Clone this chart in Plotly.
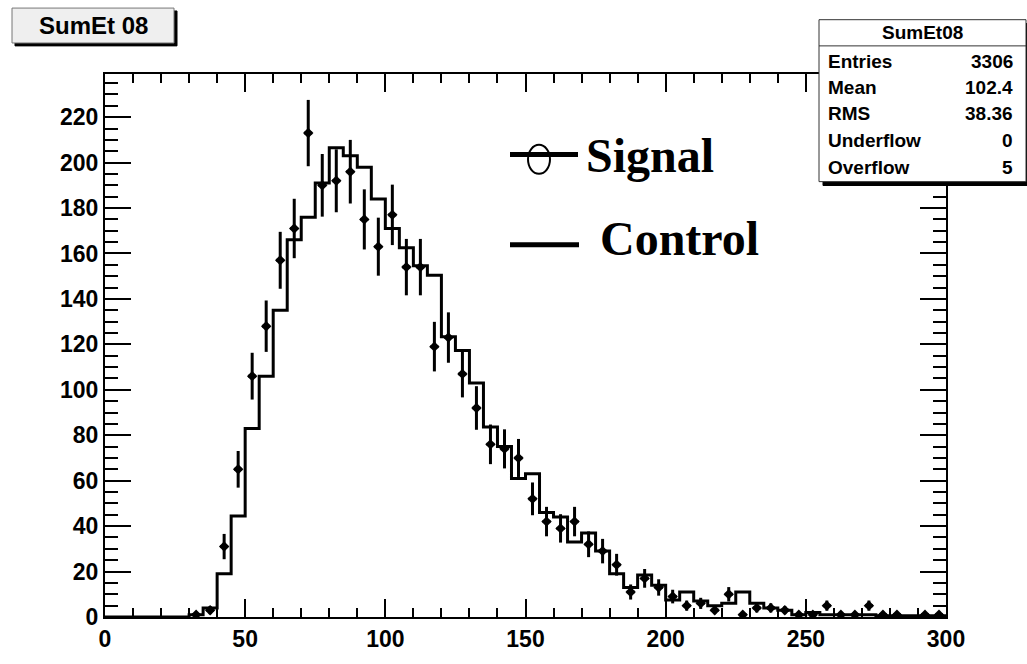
import numpy as np
import plotly.graph_objects as go

# ---- data (bin width 5, range 0-300) ----
bin_left = list(range(0, 300, 5))
control = [0, 0, 0, 0, 0, 0, 1, 4, 19, 44.5,
           83, 106, 135, 166, 176, 191, 206.5, 203, 198, 184,
           171, 162.5, 154.6, 150.4, 123.4, 117.3, 103, 83.6, 75, 61,
           63, 46, 44, 33, 37, 29, 19, 13, 18.5, 14,
           7.5, 11, 7, 5, 6, 11, 6, 4, 3, 1,
           2, 1, 1, 1, 1, 0.5, 0.5, 0.5, 0.5, 0.5]
signal = [0, 0, 0, 0, 0, 0, 1, 3, 31, 65,
          106, 128, 157, 171, 213, 190, 192, 196, 175, 163,
          177, 154, 154, 119, 123, 107, 92, 76, 74, 70,
          52, 42, 39, 42, 32, 29, 23, 11, 17, 13,
          9, 5, 6, 3, 10, 1, 4, 4, 3, 1,
          1, 5, 1, 1, 5, 1, 1, 0, 1, 1]
x_ticks = [0, 50, 100, 150, 200, 250, 300]
y_ticks = list(range(0, 221, 20))
stats_labels = ["Entries", "Mean", "RMS", "Underflow", "Overflow"]
stats_values = ["3306", "102.4", "38.36", "0", "5"]

BW = 5
edges = np.array(bin_left + [300], dtype=float)
ctrl_y = np.array(control + [control[-1]], dtype=float)
sig = np.array(signal, dtype=float)
centers = np.array(bin_left, dtype=float) + BW / 2
mask = sig > 0

# ---- layout geometry (pixels) ----
L, R, T, B = 105, 946, 74, 634
W, H = R - L, B - T
def px(x):
    return (x - L) / W
def py(y):
    return (B - y) / H

fig = go.Figure()
fig.add_trace(go.Scatter(
    x=edges, y=ctrl_y, mode="lines", line=dict(color="black", width=3, shape="hv"),
    name="Control", showlegend=False, hoverinfo="skip"))
fig.add_trace(go.Scatter(
    x=centers[mask], y=sig[mask], mode="markers",
    marker=dict(symbol="diamond", size=8, color="black"),
    error_y=dict(type="data", array=np.sqrt(sig[mask]), color="black", thickness=3, width=0),
    error_x=dict(type="constant", value=1.4, color="black", thickness=3, width=0),
    name="Signal", showlegend=False))

tickfont = dict(family="Liberation Sans, Arial, sans-serif", size=23, color="black", weight="bold")
fig.update_layout(
    width=1027, height=664,
    margin=dict(l=L, r=1027 - R, t=T, b=664 - B),
    paper_bgcolor="white", plot_bgcolor="white",
    showlegend=False,
    xaxis=dict(range=[0, 300], tickvals=x_ticks, ticks="inside", ticklen=18, tickwidth=2,
               tickcolor="black", showline=True, linecolor="black", linewidth=2, mirror="ticks",
               showgrid=False, zeroline=False, tickfont=tickfont,
               minor=dict(dtick=10, ticks="inside", ticklen=9, tickwidth=1.5, tickcolor="black", showgrid=False)),
    yaxis=dict(range=[0, 239], tickvals=y_ticks, ticks="inside", ticklen=26, tickwidth=2,
               tickcolor="black", showline=True, linecolor="black", linewidth=2, mirror="ticks",
               showgrid=False, zeroline=False, tickfont=tickfont,
               minor=dict(dtick=5, ticks="inside", ticklen=13, tickwidth=1.5, tickcolor="black", showgrid=False)),
)

shapes = []
def rect(x0, y0, x1, y1, fill, line_color, lw=1):
    shapes.append(dict(type="rect", xref="paper", yref="paper", layer="above",
                       x0=px(x0), x1=px(x1), y0=py(y1), y1=py(y0),
                       fillcolor=fill, line=dict(color=line_color, width=lw)))
def seg(x0, y0, x1, y1, color="black", lw=1):
    shapes.append(dict(type="line", xref="paper", yref="paper", layer="above",
                       x0=px(x0), x1=px(x1), y0=py(y0), y1=py(y1),
                       line=dict(color=color, width=lw)))

# title box with shadow
rect(15, 9, 177, 45, "black", "black")
rect(12, 6, 174, 42, "#efefef", "#777777", 1)
# stats box with shadow
rect(823, 22, 1030, 189, "black", "black")
rect(819, 18, 1026, 185, "white", "#333333", 1)
seg(819, 45, 1026, 45, "#333333", 1)
# legend glyphs
seg(510, 157, 578, 157, "black", 5)
shapes.append(dict(type="circle", xref="paper", yref="paper", layer="above",
                   x0=px(528), x1=px(550), y0=py(177), y1=py(147),
                   line=dict(color="black", width=2)))
seg(510, 250, 579, 250, "black", 5)
fig.update_layout(shapes=shapes)

ann = []
sans = "Liberation Sans, Arial, sans-serif"
ann.append(dict(x=px(93), y=py(24), xref="paper", yref="paper", text="SumEt 08", showarrow=False,
                xanchor="center", yanchor="middle",
                font=dict(family=sans, size=24, color="black", weight="bold")))
ann.append(dict(x=px(922), y=py(31), xref="paper", yref="paper", text="SumEt08", showarrow=False,
                xanchor="center", yanchor="middle",
                font=dict(family=sans, size=19, color="black", weight="bold")))
row_y = [61, 87.5, 115, 143, 170]
for lab, val, ry in zip(stats_labels, stats_values, row_y):
    ann.append(dict(x=px(826), y=py(ry), xref="paper", yref="paper", text=lab, showarrow=False,
                    xanchor="left", yanchor="middle",
                    font=dict(family=sans, size=19, color="black", weight="bold")))
    ann.append(dict(x=px(1015), y=py(ry), xref="paper", yref="paper", text=val, showarrow=False,
                    xanchor="right", yanchor="middle",
                    font=dict(family=sans, size=19, color="black", weight="bold")))
serif = "Liberation Serif, Times New Roman, serif"
ann.append(dict(x=px(584), y=py(158), xref="paper", yref="paper", text="Signal", showarrow=False,
                xanchor="left", yanchor="middle",
                font=dict(family=serif, size=48, color="black", weight="bold")))
ann.append(dict(x=px(598), y=py(244), xref="paper", yref="paper", text="Control", showarrow=False,
                xanchor="left", yanchor="middle",
                font=dict(family=serif, size=48, color="black", weight="bold")))
fig.update_layout(annotations=ann)

fig.write_html("out.html")
